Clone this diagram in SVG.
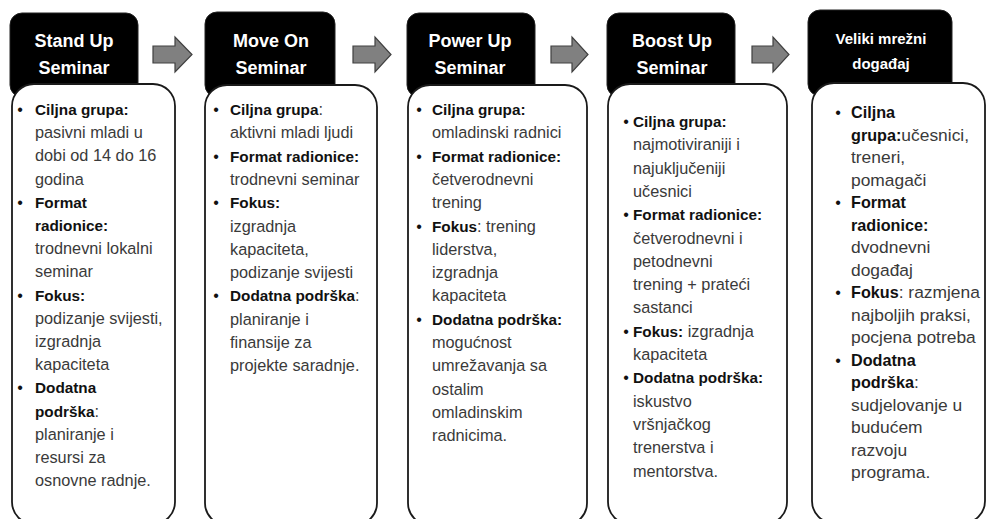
<svg xmlns="http://www.w3.org/2000/svg" width="987" height="519" viewBox="0 0 987 519">
<style>
.hdr{fill:#000;stroke:#222;stroke-width:1}
.ht{font-family:"Liberation Sans",Arial,sans-serif;font-weight:bold;font-size:18px;fill:#fff;text-anchor:middle}
.ht5{font-family:"Liberation Sans",Arial,sans-serif;font-weight:bold;font-size:15px;fill:#fff;text-anchor:middle}
.body{fill:#fff;stroke:#1a1a1a;stroke-width:1.8}
.t{font-family:"Liberation Sans",Arial,sans-serif;font-size:16.3px;fill:#3a3a3a}
.t5{font-family:"Liberation Sans",Arial,sans-serif;font-size:17.4px;fill:#3a3a3a}
.b{font-weight:bold;fill:#111;font-size:15.3px}
.b5{font-weight:bold;fill:#111;font-size:16.2px}
.bu{font-family:"Liberation Sans",Arial,sans-serif;font-size:16px;fill:#111;text-anchor:middle}
.arr{fill:#808080;stroke:#404040;stroke-width:1.2}
</style>
<g id="connectors">
<polygon class="arr" points="153,46 175,46 175,37 192,54.5 175,72 175,63 153,63"/>
<polygon class="arr" points="353,46 375,46 375,37 391,54.5 375,72 375,63 353,63"/>
<polygon class="arr" points="551,46 572,46 572,37 588,54.5 572,72 572,63 551,63"/>
<polygon class="arr" points="752,46 773,46 773,37 789,54.5 773,72 773,63 752,63"/>
</g>
<g id="node1">
<rect class="hdr" x="10" y="13" width="128" height="84" rx="12"/>
<text class="ht" x="74" y="47">Stand Up</text>
<text class="ht" x="74" y="74">Seminar</text>
<rect class="body" x="12" y="84" width="163" height="440" rx="22"/>
<text class="bu" x="20" y="115">•</text><text class="t" x="35" y="115"><tspan class="b">Ciljna grupa:</tspan></text>
<text class="t" x="35" y="138.2">pasivni mladi u</text>
<text class="t" x="35" y="161.4">dobi od 14 do 16</text>
<text class="t" x="35" y="184.6">godina</text>
<text class="bu" x="20" y="207.8">•</text><text class="t" x="35" y="207.8"><tspan class="b">Format</tspan></text>
<text class="t" x="35" y="231"><tspan class="b">radionice:</tspan></text>
<text class="t" x="35" y="254.2">trodnevni lokalni</text>
<text class="t" x="35" y="277.4">seminar</text>
<text class="bu" x="20" y="300.6">•</text><text class="t" x="35" y="300.6"><tspan class="b">Fokus:</tspan></text>
<text class="t" x="35" y="323.8">podizanje svijesti,</text>
<text class="t" x="35" y="347">izgradnja</text>
<text class="t" x="35" y="370.2">kapaciteta</text>
<text class="bu" x="20" y="393.4">•</text><text class="t" x="35" y="393.4"><tspan class="b">Dodatna</tspan></text>
<text class="t" x="35" y="416.6"><tspan class="b">podrška</tspan>:</text>
<text class="t" x="35" y="439.8">planiranje i</text>
<text class="t" x="35" y="463">resursi za</text>
<text class="t" x="35" y="486.2">osnovne radnje.</text>
</g>
<g id="node2">
<rect class="hdr" x="205" y="12" width="130" height="85" rx="12"/>
<text class="ht" x="271" y="47">Move On</text>
<text class="ht" x="271" y="74">Seminar</text>
<rect class="body" x="205" y="85" width="172" height="440" rx="22"/>
<text class="bu" x="216" y="115">•</text><text class="t" x="230" y="115"><tspan class="b">Ciljna grupa</tspan>:</text>
<text class="t" x="230" y="138.3">aktivni mladi ljudi</text>
<text class="bu" x="216" y="161.6">•</text><text class="t" x="230" y="161.6"><tspan class="b">Format radionice:</tspan></text>
<text class="t" x="230" y="184.9">trodnevni seminar</text>
<text class="bu" x="216" y="208.2">•</text><text class="t" x="230" y="208.2"><tspan class="b">Fokus:</tspan></text>
<text class="t" x="230" y="231.5">izgradnja</text>
<text class="t" x="230" y="254.8">kapaciteta,</text>
<text class="t" x="230" y="278.1">podizanje svijesti</text>
<text class="bu" x="216" y="301.4">•</text><text class="t" x="230" y="301.4"><tspan class="b">Dodatna podrška</tspan>:</text>
<text class="t" x="230" y="324.7">planiranje i</text>
<text class="t" x="230" y="348">finansije za</text>
<text class="t" x="230" y="371.3">projekte saradnje.</text>
</g>
<g id="node3">
<rect class="hdr" x="407" y="13" width="128" height="84" rx="12"/>
<text class="ht" x="470" y="47">Power Up</text>
<text class="ht" x="470" y="74">Seminar</text>
<rect class="body" x="408" y="85" width="179" height="440" rx="22"/>
<text class="bu" x="419" y="115">•</text><text class="t" x="432" y="115"><tspan class="b">Ciljna grupa:</tspan></text>
<text class="t" x="432" y="138.3">omladinski radnici</text>
<text class="bu" x="419" y="161.6">•</text><text class="t" x="432" y="161.6"><tspan class="b">Format radionice:</tspan></text>
<text class="t" x="432" y="184.9">četverodnevni</text>
<text class="t" x="432" y="208.2">trening</text>
<text class="bu" x="419" y="231.5">•</text><text class="t" x="432" y="231.5"><tspan class="b">Fokus</tspan>: trening</text>
<text class="t" x="432" y="254.8">liderstva,</text>
<text class="t" x="432" y="278.1">izgradnja</text>
<text class="t" x="432" y="301.4">kapaciteta</text>
<text class="bu" x="419" y="324.7">•</text><text class="t" x="432" y="324.7"><tspan class="b">Dodatna podrška:</tspan></text>
<text class="t" x="432" y="348">mogućnost</text>
<text class="t" x="432" y="371.3">umrežavanja sa</text>
<text class="t" x="432" y="394.6">ostalim</text>
<text class="t" x="432" y="417.9">omladinskim</text>
<text class="t" x="432" y="441.2">radnicima.</text>
</g>
<g id="node4">
<rect class="hdr" x="607" y="13" width="128" height="84" rx="12"/>
<text class="ht" x="672" y="47">Boost Up</text>
<text class="ht" x="672" y="74">Seminar</text>
<rect class="body" x="608" y="84" width="179" height="440" rx="22"/>
<text class="bu" x="626" y="127">•</text><text class="t" x="633" y="127"><tspan class="b">Ciljna grupa:</tspan></text>
<text class="t" x="633" y="150.3">najmotiviraniji i</text>
<text class="t" x="633" y="173.6">najuključeniji</text>
<text class="t" x="633" y="196.9">učesnici</text>
<text class="bu" x="626" y="220.2">•</text><text class="t" x="633" y="220.2"><tspan class="b">Format radionice:</tspan></text>
<text class="t" x="633" y="243.5">četverodnevni i</text>
<text class="t" x="633" y="266.8">petodnevni</text>
<text class="t" x="633" y="290.1">trening + prateći</text>
<text class="t" x="633" y="313.4">sastanci</text>
<text class="bu" x="626" y="336.7">•</text><text class="t" x="633" y="336.7"><tspan class="b">Fokus:</tspan> izgradnja</text>
<text class="t" x="633" y="360">kapaciteta</text>
<text class="bu" x="626" y="383.3">•</text><text class="t" x="633" y="383.3"><tspan class="b">Dodatna podrška:</tspan></text>
<text class="t" x="633" y="406.6">iskustvo</text>
<text class="t" x="633" y="429.9">vršnjačkog</text>
<text class="t" x="633" y="453.2">trenerstva i</text>
<text class="t" x="633" y="476.5">mentorstva.</text>
</g>
<g id="node5">
<rect class="hdr" x="808" y="10" width="144" height="86" rx="12"/>
<text class="ht5" x="881" y="44">Veliki mrežni</text>
<text class="ht5" x="881" y="69">događaj</text>
<rect class="body" x="812" y="83" width="173" height="440" rx="22"/>
<text class="bu" x="838" y="118">•</text><text class="t5" x="851" y="118"><tspan class="b5">Ciljna</tspan></text>
<text class="t5" x="851" y="140.5"><tspan class="b5">grupa:</tspan>učesnici,</text>
<text class="t5" x="851" y="163">treneri,</text>
<text class="t5" x="851" y="185.5">pomagači</text>
<text class="bu" x="838" y="208">•</text><text class="t5" x="851" y="208"><tspan class="b5">Format</tspan></text>
<text class="t5" x="851" y="230.5"><tspan class="b5">radionice:</tspan></text>
<text class="t5" x="851" y="253">dvodnevni</text>
<text class="t5" x="851" y="275.5">događaj</text>
<text class="bu" x="838" y="298">•</text><text class="t5" x="851" y="298"><tspan class="b5">Fokus</tspan>: razmjena</text>
<text class="t5" x="851" y="320.5">najboljih praksi,</text>
<text class="t5" x="851" y="343">pocjena potreba</text>
<text class="bu" x="838" y="365.5">•</text><text class="t5" x="851" y="365.5"><tspan class="b5">Dodatna</tspan></text>
<text class="t5" x="851" y="388"><tspan class="b5">podrška</tspan>:</text>
<text class="t5" x="851" y="410.5">sudjelovanje u</text>
<text class="t5" x="851" y="433">budućem</text>
<text class="t5" x="851" y="455.5">razvoju</text>
<text class="t5" x="851" y="478">programa.</text>
</g>
</svg>
